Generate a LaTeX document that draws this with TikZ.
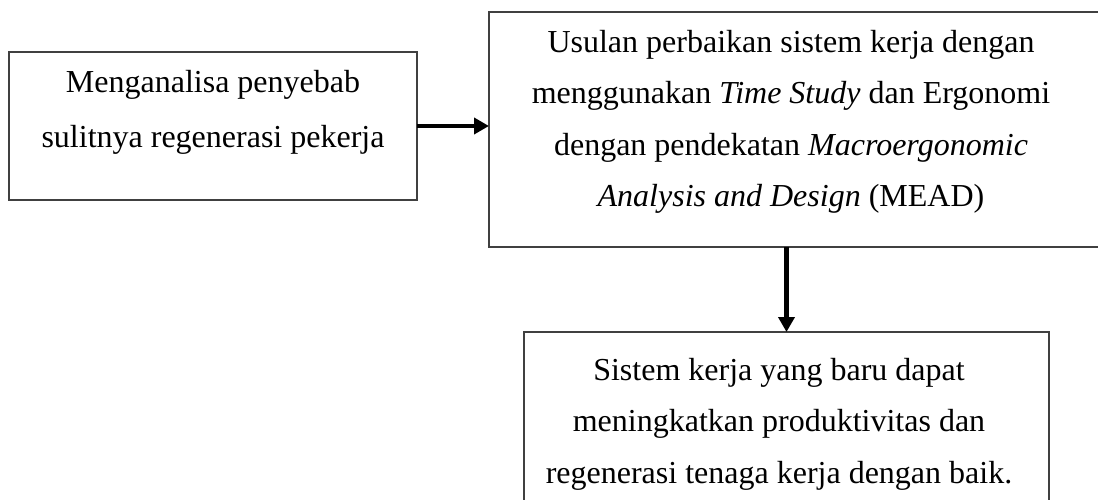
\documentclass[tikz,border=0pt]{standalone}
\usepackage{fontspec}
\setmainfont{Liberation Serif}
\usetikzlibrary{arrows.meta}
\begin{document}
\begin{tikzpicture}[x=1pt,y=-1pt,
  boxnode/.style={draw=black!75, line width=1.3pt, rectangle, inner sep=0pt, outer sep=0pt, anchor=north west},
  txt/.style={align=center, inner sep=0pt},
  conn/.style={line width=4.5pt, -{Triangle[length=15pt,width=16pt]}}]
\useasboundingbox (0,0) rectangle (1098,500);
\node[boxnode, minimum width=408pt, minimum height=148pt] (b1) at (9,52) {};
\node[boxnode, minimum width=611pt, minimum height=235pt] (b2) at (489,12) {};
\node[boxnode, minimum width=525pt, minimum height=216pt] (b3) at (524,332) {};
\node[txt, font=\fontsize{32}{55}\selectfont] (t1) at (213,112.5) {Menganalisa penyebab\\sulitnya regenerasi pekerja};
\node[txt, font=\fontsize{32}{51.5}\selectfont] (t2) at (791,122) {Usulan perbaikan sistem kerja dengan\\menggunakan \textit{Time Study} dan Ergonomi\\dengan pendekatan \textit{Macroergonomic}\\\textit{Analysis and Design} (MEAD)};
\node[txt, font=\fontsize{32}{51.5}\selectfont] (t3) at (779,424) {Sistem kerja yang baru dapat\\meningkatkan produktivitas dan\\regenerasi tenaga kerja dengan baik.};
\draw[conn] (b1.east) -- (b1.east -| b2.west);
\draw[conn, line width=5.5pt] (b3.north |- b2.south) -- (b3.north);
\end{tikzpicture}
\end{document}
